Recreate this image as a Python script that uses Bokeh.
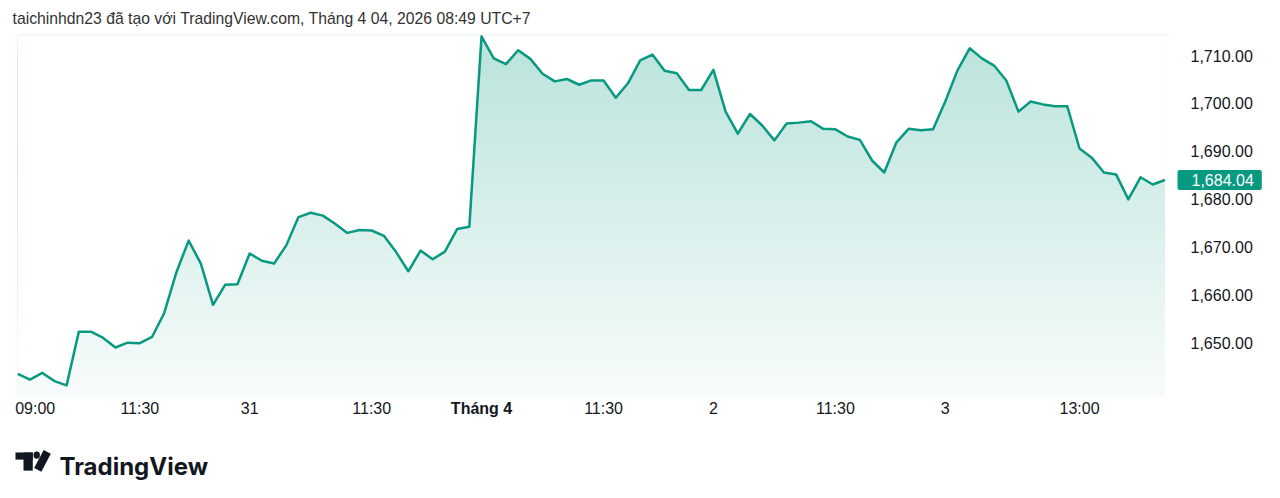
import math
from bokeh.plotting import figure
from bokeh.models import (Range1d, FixedTicker, NumeralTickFormatter, Label,
                          BoxAnnotation)
from bokeh.embed import file_html
from bokeh.resources import INLINE

# ---------------- data ----------------
prices = [
    1643.6, 1642.4, 1643.8, 1642.1, 1641.2, 1652.4, 1652.4, 1651.1, 1649.1, 1650.1,
    1650.0, 1651.3, 1656.3, 1664.8, 1671.4, 1666.6, 1658.0, 1662.2, 1662.3,
    1668.7, 1667.2, 1666.6, 1670.4, 1676.3, 1677.2, 1676.6, 1674.9, 1673.0, 1673.6,
    1673.5, 1672.4, 1669.0, 1665.0, 1669.3, 1667.5, 1669.1, 1673.8, 1674.3,
    1714.0, 1709.4, 1708.2, 1711.1, 1709.3, 1706.2, 1704.6, 1705.1, 1703.9, 1704.8,
    1704.8, 1701.2, 1704.2, 1709.0, 1710.2, 1706.8, 1706.3, 1702.8, 1702.8,
    1707.0, 1698.3, 1693.7, 1697.8, 1695.4, 1692.3, 1695.8, 1696.0, 1696.3, 1694.7,
    1694.6, 1693.1, 1692.4, 1688.1, 1685.6, 1691.9, 1694.7, 1694.4, 1694.6,
    1700.4, 1706.9, 1711.5, 1709.4, 1707.9, 1704.8, 1698.3, 1700.4, 1699.8, 1699.4,
    1699.4, 1690.6, 1688.7, 1685.6, 1685.2, 1680.0, 1684.6, 1683.1, 1684.04,
]
bar_index = list(range(len(prices)))

time_tick_positions = [1.43, 10, 19, 29, 48, 57, 67, 76, 87]
time_tick_labels = ["09:00", "11:30", "31", "11:30", "11:30", "2", "11:30", "3", "13:00"]
month_tick_position = 38
month_tick_label = "Tháng 4"

price_ticks = [1650, 1660, 1670, 1680, 1690, 1700, 1710]
last_price = prices[-1]
last_price_text = "1,684.04"

title_text = "taichinhdn23 đã tạo với TradingView.com, Tháng 4 04, 2026 08:49 UTC+7"
brand_text = "TradingView"

# ---------------- style / layout ----------------
GREEN_RGB = (8, 153, 129)
GREEN = "#089981"
TEXT = "#131722"
FONT = "Liberation Sans"
X_START, X_END = -0.434, 95.03
Y_START, Y_END = 1638.88, 1714.38
LEFT, TOP = 12, 34
FRAME_W, FRAME_H = 1165, 362
PX_X = FRAME_W / (X_END - X_START)
PX_Y = FRAME_H / (Y_END - Y_START)
TOP_ALPHA, BOTTOM_ALPHA = 0.28, 0.03


def cx(px):
    """canvas pixel x -> data x"""
    return X_START + (px - LEFT) / PX_X


def cy(py):
    """canvas pixel y -> data y"""
    return Y_END - (py - TOP) / PX_Y


def tint(alpha):
    r, g, b = (round(255 - alpha * (255 - ch)) for ch in GREEN_RGB)
    return "#%02x%02x%02x" % (r, g, b)


p = figure(title=None, frame_width=FRAME_W, frame_height=FRAME_H,
           min_border_left=LEFT, min_border_right=95, min_border_top=TOP,
           min_border_bottom=102, x_range=Range1d(X_START, X_END),
           y_range=Range1d(Y_START, Y_END), y_axis_location="right",
           toolbar_location=None, output_backend="svg",
           background_fill_color="white", border_fill_color="white")
p.outline_line_color = None
p.grid.visible = False

# vertical gradient under the line: nested opaque bands over the data's x-span,
# then a white mask above the line
N = 72
span = Y_END - Y_START
first_x, last_x = bar_index[0], bar_index[-1]
for k in range(N):
    t = (k + 0.5) / N
    alpha = TOP_ALPHA * (1 - t) + BOTTOM_ALPHA * t
    top = Y_END + 1 if k == 0 else Y_END - span * k / N
    p.quad(left=first_x, right=last_x, bottom=Y_START - 1, top=top,
           fill_color=tint(alpha), line_color=None)
p.varea(x=bar_index, y1=prices, y2=Y_END + 1, fill_color="white")

p.line(x=bar_index, y=prices, line_color=GREEN, line_width=2.5,
       line_join="round")

# axes
p.yaxis.ticker = FixedTicker(ticks=price_ticks)
p.yaxis.formatter = NumeralTickFormatter(format="0,0.00")
p.xaxis.ticker = FixedTicker(ticks=time_tick_positions)
p.xaxis.major_label_overrides = {t: l for t, l in zip(time_tick_positions, time_tick_labels)}
for ax in (p.xaxis[0], p.yaxis[0]):
    ax.axis_line_color = None
    ax.major_tick_line_color = None
    ax.minor_tick_line_color = None
    ax.major_tick_out = 0
    ax.major_tick_in = 0
    ax.minor_tick_out = 0
    ax.major_label_text_font = FONT
    ax.major_label_text_font_size = "16px"
    ax.major_label_text_color = TEXT
p.xaxis.major_label_standoff = 3
p.yaxis.major_label_standoff = 13

# title (side panel so it is not clipped to the frame)
p.add_layout(Label(x=cx(12), y=cy(18), text=title_text,
                   text_font=FONT, text_font_size="15.75px", text_color="#333333",
                   text_align="left", text_baseline="alphabetic"), "above")

# bold month label on the time axis
p.add_layout(Label(x=month_tick_position, y=cy(408), text=month_tick_label,
                   text_font=FONT, text_font_size="16px", text_font_style="bold",
                   text_color=TEXT, text_align="center", text_baseline="middle"),
             "below")

# last price badge
p.add_layout(Label(x=X_END, y=last_price, text=last_price_text,
                   text_font=FONT, text_font_size="16px", text_color="white",
                   text_align="left", text_baseline="middle",
                   background_fill_color=GREEN,
                   padding=dict(left=14, right=8, top=4, bottom=4),
                   border_radius=2), "below")

# panel border
p.add_layout(BoxAnnotation(left=cx(12.5), right=cx(1266.5), top=cy(34.5),
                           bottom=cy(423.5), fill_alpha=0, line_color="#e3e6ec",
                           line_width=1), "below")

# ---------------- TradingView logo ----------------
LOGO = "#131722"


def logo_box(left, top, w, h, radius=0, angle=0.0, centered=False):
    kw = dict(text_align="center", text_baseline="middle") if centered else \
        dict(text_align="left", text_baseline="top")
    if centered:
        pad = dict(left=w // 2, right=w - w // 2, top=h // 2, bottom=h - h // 2)
    else:
        pad = dict(left=w, right=0, top=h, bottom=0)
    p.add_layout(Label(x=cx(left), y=cy(top), text=" ", text_font_size="1px",
                       text_color=LOGO, background_fill_color=LOGO,
                       padding=pad, border_radius=radius, angle=angle, **kw),
                 "below")


logo_box(15, 452, 17, 6)                 # top bar of the "T"
logo_box(23, 452, 9, 17)                 # stem of the "T"
logo_box(36.2, 454.6, 6, 6, radius=3, centered=True)          # dot
logo_box(42.0, 460.4, 20, 7, angle=math.radians(62), centered=True)  # slash

p.add_layout(Label(x=cx(59), y=cy(466.3), text=brand_text, text_font="Inter",
                   text_font_size="24px", text_font_style="bold", text_color=LOGO,
                   text_align="left", text_baseline="alphabetic"), "below")

open("out.html", "w").write(file_html(p, INLINE))
